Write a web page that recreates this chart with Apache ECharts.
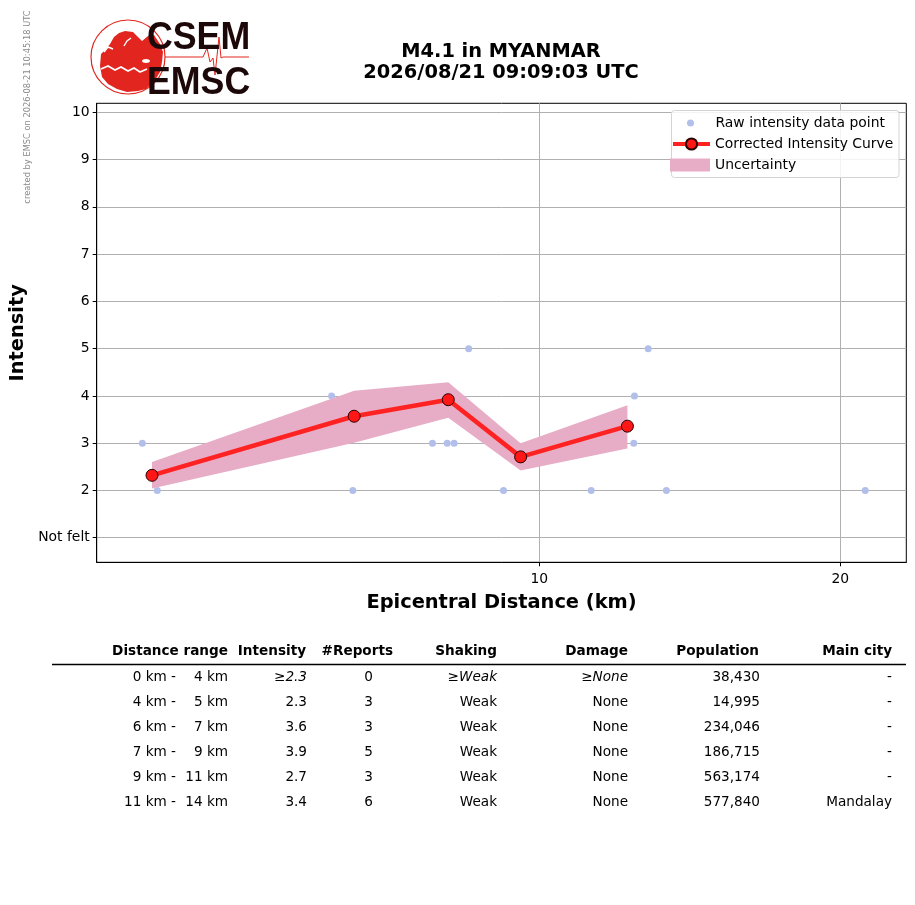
<!DOCTYPE html>
<html>
<head>
<meta charset="UTF-8">
<script type="text/javascript" src="https://cdn.jsdelivr.net/npm/echarts@6/dist/echarts.min.js"></script>
<title></title>
<style>html,body{margin:0;padding:0;background:#fff;}</style>
</head>
<body>
<div id="main" style="width:915px;height:905px"></div>
<script type="text/javascript">
// raw intensity reports (distance km, intensity)
var rawDist = [4.01, 4.15, 5.07, 6.20, 6.51, 6.92, 7.82, 7.96, 8.09, 8.22, 8.50,
               9.21, 9.30, 10.26, 11.09, 11.27, 12.43, 12.45, 12.85, 13.40, 21.18];
var rawInt  = [3, 2, 3, 4, 2, 4, 3, 4, 3, 3, 5,
               2, 3, 3, 3, 2, 3, 4, 5, 2, 2];

// corrected curve + uncertainty band
var curveDist = [4.10, 6.53, 8.11, 9.58, 12.25];
var curveInt  = [2.32, 3.57, 3.92, 2.71, 3.36];
var bandLow   = [2.04, 3.01, 3.54, 2.42, 2.89];
var bandHigh  = [2.60, 4.11, 4.29, 3.00, 3.80];

var xTicks = [10, 20];
var yTicks = [1, 2, 3, 4, 5, 6, 7, 8, 9, 10];

// table
var tableHead = ['Distance range', 'Intensity', '#Reports', 'Shaking', 'Damage', 'Population', 'Main city'];
var rangeFrom = [0, 4, 6, 7, 9, 11];
var rangeTo   = [4, 5, 7, 9, 11, 14];
var tIntensity = ['≥2.3', '2.3', '3.6', '3.9', '2.7', '3.4'];
var tReports   = [0, 3, 3, 5, 3, 6];
var tShaking   = ['≥Weak', 'Weak', 'Weak', 'Weak', 'Weak', 'Weak'];
var tDamage    = ['≥None', 'None', 'None', 'None', 'None', 'None'];
var tPopulation = ['38,430', '14,995', '234,046', '186,715', '563,174', '577,840'];
var tCity      = ['-', '-', '-', '-', '-', 'Mandalay'];

var FONT = 'DejaVu Sans';
var myChart = echarts.init(document.getElementById('main'));

var rawData = rawDist.map(function (d, i) { return [d, rawInt[i]]; });
var curveData = curveDist.map(function (d, i) { return [d, curveInt[i]]; });
var bandData = curveDist.map(function (d, i) { return [d, bandLow[i], bandHigh[i]]; });

// table texts
var tableEls = [];
var headRight = [228, 306, 393, 497, 628, 759, 892];
var headY = 651, rowY0 = 677, rowStep = 25;
function txt(x, y, s, opts) {
    opts = opts || {};
    return {
        type: 'text', x: x, y: y, silent: true,
        style: {
            text: s, align: opts.align || 'right', verticalAlign: 'middle',
            font: (opts.italic ? 'italic ' : '') + (opts.bold ? 'bold ' : '') + '13.6px "DejaVu Sans"',
            fill: '#000'
        }
    };
}
tableHead.forEach(function (h, i) { tableEls.push(txt(headRight[i], headY, h, {bold: true})); });
tableEls.push({type: 'line', silent: true, shape: {x1: 52, y1: 664.5, x2: 906, y2: 664.5},
    style: {stroke: '#000', lineWidth: 1.6}});
for (var r = 0; r < rangeFrom.length; r++) {
    var y = rowY0 + r * rowStep;
    var it = r === 0;
    tableEls.push(txt(176, y, rangeFrom[r] + ' km -'));
    tableEls.push(txt(228, y, rangeTo[r] + ' km'));
    tableEls.push(txt(307, y, tIntensity[r], {italic: it}));
    tableEls.push(txt(373, y, String(tReports[r])));
    tableEls.push(txt(497, y, tShaking[r], {italic: it}));
    tableEls.push(txt(628, y, tDamage[r], {italic: it}));
    tableEls.push(txt(760, y, tPopulation[r]));
    tableEls.push(txt(892, y, tCity[r]));
}

// logo
var red = '#e2261f';
var logoEls = [
    {type: 'circle', silent: true, shape: {cx: 128, cy: 57, r: 37}, style: {fill: 'none', stroke: red, lineWidth: 1.2}},
    {type: 'polygon', silent: true, shape: {points: [[100,66],[101,54],[106,49],[110,44],[114,37],[119,33],[125,31],[133,32],[138,37],[142,41],[148,36],[154,35],[160,44],[163,52],[162,62],[160,72],[154,82],[146,89],[138,91],[127,92],[117,89],[108,84],[102,77]]}, style: {fill: red}},
    {type: 'polyline', silent: true, shape: {points: [[101,69],[108,66],[115,70],[121,67],[128,71],[134,68],[140,72],[147,69]]}, style: {stroke: '#fff', lineWidth: 1.8, fill: 'none'}},
    {type: 'polyline', silent: true, shape: {points: [[104,52],[108,47],[113,49]]}, style: {stroke: '#fff', lineWidth: 1.5, fill: 'none'}},
    {type: 'polyline', silent: true, shape: {points: [[124,46],[127,41],[131,38]]}, style: {stroke: '#fff', lineWidth: 1.4, fill: 'none'}},
    {type: 'ellipse', silent: true, shape: {cx: 146, cy: 61, rx: 4, ry: 2}, style: {fill: '#fff'}},
    {type: 'polyline', silent: true, shape: {points: [[165,57],[203,57],[207,48],[210,62],[213,58],[215,75],[219,37],[221,58],[223,57],[249,57]]}, style: {stroke: red, lineWidth: 1, fill: 'none'}},
    {type: 'text', silent: true, x: 147, y: 39, scaleX: 0.94, style: {text: 'CSEM', font: 'bold 38px "Liberation Sans"', fill: '#1c0808', align: 'left', verticalAlign: 'middle'}},
    {type: 'text', silent: true, x: 147, y: 84, scaleX: 0.94, style: {text: 'EMSC', font: 'bold 38px "Liberation Sans"', fill: '#1c0808', align: 'left', verticalAlign: 'middle'}}
];

var option = {
    animation: false,
    textStyle: {fontFamily: FONT},
    title: {
        text: 'M4.1 in MYANMAR\n2026/08/21 09:09:03 UTC',
        left: 496, top: 36, textAlign: 'center',
        textStyle: {fontFamily: FONT, fontSize: 19.4, fontWeight: 'bold', color: '#000', lineHeight: 21}
    },
    legend: [{
        data: ['Raw intensity data point'], left: 687, top: 116, padding: 0,
        itemWidth: 40, itemHeight: 7, selectedMode: false,
        textStyle: {fontFamily: FONT, fontSize: 13.9, color: '#000'}
    }, {
        data: ['Corrected Intensity Curve'], left: 671, top: 137, padding: 0,
        itemWidth: 37, itemHeight: 14, selectedMode: false,
        lineStyle: {width: 4},
        textStyle: {fontFamily: FONT, fontSize: 13.9, color: '#000'}
    }, {
        data: [{name: 'Uncertainty', icon: 'rect'}], left: 670, top: 158, padding: 0,
        itemWidth: 40, itemHeight: 13, selectedMode: false,
        textStyle: {fontFamily: FONT, fontSize: 13.9, color: '#000'}
    }],
    grid: {left: 96.7, right: 8.7, top: 103.3, bottom: 342.7, show: true, borderColor: '#000', borderWidth: 1},
    xAxis: {
        type: 'log', logBase: 10, min: 3.61, max: 23.28,
        name: 'Epicentral Distance (km)', nameLocation: 'middle', nameGap: 31,
        nameTextStyle: {fontFamily: FONT, fontSize: 19.4, fontWeight: 'bold', color: '#000'},
        axisLine: {lineStyle: {color: '#000', width: 1}},
        axisTick: {customValues: xTicks, length: 4, lineStyle: {color: '#000'}},
        axisLabel: {customValues: xTicks, color: '#000', fontSize: 13.9, margin: 10,
            formatter: function (v) { return String(Math.round(v)); }},
        splitLine: {show: true, lineStyle: {color: '#b0b0b0', width: 1}},
        minorTick: {show: false}, minorSplitLine: {show: false}
    },
    yAxis: {
        type: 'value', min: 0.48, max: 10.19,
        name: 'Intensity', nameLocation: 'middle', nameGap: 63,
        nameTextStyle: {fontFamily: FONT, fontSize: 19.4, fontWeight: 'bold', color: '#000'},
        axisLine: {show: true, lineStyle: {color: '#000', width: 1}},
        axisTick: {show: true, customValues: yTicks, length: 4, lineStyle: {color: '#000'}},
        axisLabel: {customValues: yTicks, color: '#000', fontSize: 13.9, margin: 7,
            formatter: function (v) { return v === 1 ? 'Not felt' : String(v); }},
        splitLine: {show: true, lineStyle: {color: '#b0b0b0', width: 1}}
    },
    graphic: [
        {type: 'group', children: logoEls},
        {type: 'group', children: tableEls},
        {type: 'text', silent: true, x: 28, y: 107, rotation: Math.PI / 2,
            style: {text: 'created by EMSC on 2026-08-21 10:45:18 UTC', font: '8.3px "DejaVu Sans"', fill: '#8a8a8a', align: 'center', verticalAlign: 'middle'}},
        {type: 'rect', silent: true, z: 3, shape: {x: 671.5, y: 110.5, width: 227.5, height: 67, r: 3},
            style: {fill: 'rgba(255,255,255,0.85)', stroke: '#d4d4d4', lineWidth: 1}}
    ],
    series: [{
        name: 'Raw intensity data point',
        type: 'scatter',
        data: rawData,
        symbol: 'circle', symbolSize: 7,
        itemStyle: {color: '#b3bfeb', opacity: 1},
        z: 1
    }, {
        name: 'Uncertainty',
        type: 'custom',
        data: bandData,
        itemStyle: {color: '#e8adc6'},
        z: 2,
        renderItem: function (params, api) {
            if (params.dataIndex !== 0) return null;
            var pts = [];
            for (var i = 0; i < bandData.length; i++) pts.push(api.coord([bandData[i][0], bandData[i][2]]));
            for (var j = bandData.length - 1; j >= 0; j--) pts.push(api.coord([bandData[j][0], bandData[j][1]]));
            return {type: 'polygon', shape: {points: pts}, style: {fill: '#e8adc6'}};
        },
        encode: {x: 0, y: [1, 2]}
    }, {
        name: 'Corrected Intensity Curve',
        type: 'line',
        data: curveData,
        symbol: 'circle', symbolSize: 12,
        lineStyle: {color: '#ff2222', width: 4.5},
        itemStyle: {color: '#ff1616', borderColor: '#2a0000', borderWidth: 1},
        z: 3
    }]
};
myChart.setOption(option);
</script>
</body>
</html>
